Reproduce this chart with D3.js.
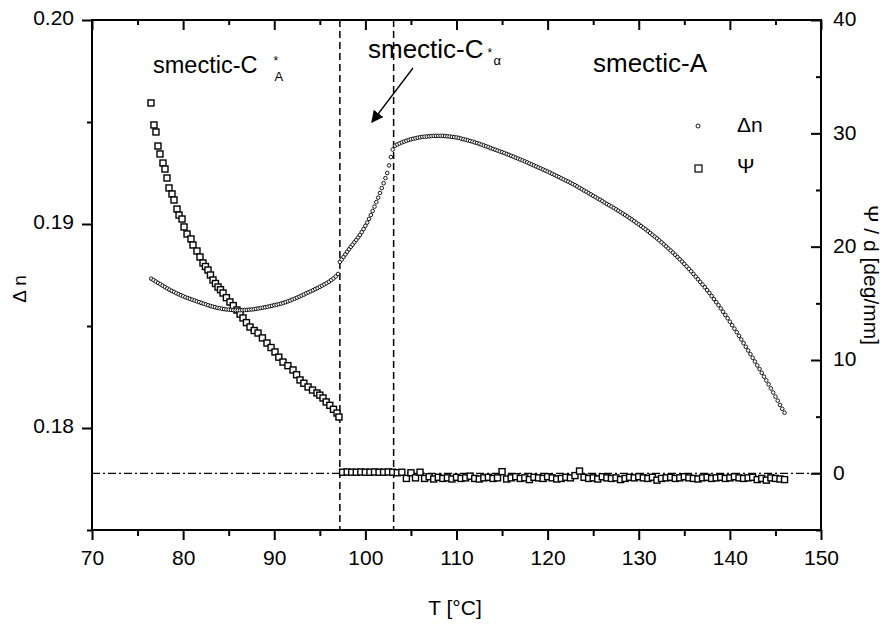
<!DOCTYPE html>
<html><head><meta charset="utf-8">
<script src="https://cdn.jsdelivr.net/npm/d3@7"></script>
<style>
body{margin:0;background:#fff}
svg{display:block}
text{font-family:"Liberation Sans",Arial,Helvetica,sans-serif;fill:#000}
</style>
</head><body>
<svg id="chart" width="883" height="624"></svg>
<script>
// ---------- data ----------
const xMajorTicks = [70, 80, 90, 100, 110, 120, 130, 140, 150];
const xMinorTicks = [75, 85, 95, 105, 115, 125, 135, 145];
const dnMajorTicks = [0.18, 0.19, 0.20];
const dnMinorTicks = [0.175, 0.185, 0.195];
const psiMajorTicks = [0, 10, 20, 30, 40];
const psiMinorTicks = [-5, 5, 15, 25, 35];
const transitionTemps = [97.2, 103.1];

// Δn, smectic-C*A range (from 76.5 °C, every 0.25 °C)
const dn1 = [0.18732,0.18725,0.18718,0.18711,0.18705,0.18698,0.18691,0.18684,
             0.18678,0.18672,0.18667,0.18661,0.18656,0.18651,0.18646,0.18641,
             0.18637,0.18633,0.18629,0.18625,0.18621,0.18617,0.18613,0.18609,
             0.18606,0.18602,0.18598,0.18595,0.18592,0.18589,0.18587,0.18585,
             0.18583,0.18581,0.18580,0.18579,0.18578,0.18577,0.18577,0.18577,
             0.18578,0.18578,0.18579,0.18580,0.18581,0.18582,0.18584,0.18586,
             0.18588,0.18590,0.18592,0.18594,0.18597,0.18599,0.18602,0.18604,
             0.18607,0.18610,0.18613,0.18617,0.18621,0.18625,0.18630,0.18634,
             0.18639,0.18644,0.18649,0.18654,0.18660,0.18665,0.18670,0.18675,
             0.18681,0.18686,0.18692,0.18698,0.18704,0.18710,0.18717,0.18725,
             0.18733,0.18743,0.18755];
const dnT1 = dn1.map((_, i) => 76.5 + i * 0.25);
// Δn, smectic-C*α range (from 97.2 °C, every 0.2 °C)
const dn2 = [0.18814,0.18826,0.18838,0.18851,0.18864,0.18876,0.18888,0.18899,0.18911,0.18922,
             0.18934,0.18946,0.18960,0.18975,0.18991,0.19007,0.19025,0.19044,0.19064,0.19085,
             0.19107,0.19129,0.19152,0.19176,0.19200,0.19225,0.19250,0.19287,0.19328,0.19365];
const dnT2 = dn2.map((_, i) => 97.2 + i * 0.2);
// Δn, smectic-A range (from 103.25 °C, every 0.25 °C)
const dn3 = [0.19384,0.19390,0.19395,0.19400,0.19404,0.19408,0.19412,0.19415,
             0.19418,0.19420,0.19423,0.19425,0.19427,0.19428,0.19429,0.19430,
             0.19431,0.19432,0.19432,0.19432,0.19432,0.19432,0.19431,0.19430,
             0.19429,0.19427,0.19426,0.19424,0.19422,0.19419,0.19416,0.19413,
             0.19410,0.19407,0.19404,0.19400,0.19397,0.19393,0.19389,0.19385,
             0.19381,0.19377,0.19372,0.19368,0.19364,0.19360,0.19356,0.19352,
             0.19348,0.19343,0.19339,0.19334,0.19330,0.19325,0.19321,0.19316,
             0.19312,0.19307,0.19302,0.19297,0.19292,0.19287,0.19282,0.19277,
             0.19272,0.19267,0.19262,0.19257,0.19252,0.19246,0.19241,0.19235,
             0.19230,0.19224,0.19219,0.19213,0.19208,0.19202,0.19196,0.19190,
             0.19184,0.19177,0.19171,0.19164,0.19158,0.19151,0.19145,0.19138,
             0.19132,0.19125,0.19119,0.19112,0.19105,0.19098,0.19092,0.19086,
             0.19079,0.19072,0.19065,0.19058,0.19051,0.19044,0.19037,0.19029,
             0.19022,0.19014,0.19006,0.18998,0.18990,0.18982,0.18974,0.18965,
             0.18956,0.18947,0.18938,0.18929,0.18920,0.18910,0.18900,0.18890,
             0.18880,0.18870,0.18860,0.18849,0.18838,0.18827,0.18816,0.18804,
             0.18792,0.18780,0.18768,0.18755,0.18742,0.18729,0.18716,0.18703,
             0.18690,0.18676,0.18662,0.18647,0.18632,0.18617,0.18602,0.18586,
             0.18570,0.18554,0.18538,0.18521,0.18504,0.18487,0.18470,0.18452,
             0.18434,0.18416,0.18398,0.18380,0.18362,0.18344,0.18326,0.18307,
             0.18289,0.18270,0.18252,0.18233,0.18214,0.18194,0.18174,0.18154,
             0.18134,0.18113,0.18094,0.18075];
const dnT3 = dn3.map((_, i) => 103.25 + i * 0.25);

// Ψ/d, smectic-C*A range
const psiT1 = [76.47,76.80,77.02,77.24,77.46,77.79,78.01,78.23,78.45,78.78,79.00,79.33,79.55,79.88,
               80.10,80.43,80.86,81.08,81.52,81.85,82.18,82.45,82.73,83.00,83.28,83.55,83.83,84.10,
               84.38,84.75,85.14,85.50,85.91,86.25,86.57,86.95,87.34,87.80,88.22,88.70,89.20,89.65,
               90.08,90.50,90.96,91.50,92.06,92.45,92.83,93.25,93.71,94.20,94.69,95.00,95.35,95.70,
               96.10,96.50,96.89,97.10];
const psi1 = [32.68,30.74,30.12,28.88,28.18,27.38,26.85,26.06,25.18,24.65,24.12,23.32,22.79,22.44,
              21.74,21.12,20.68,20.15,19.62,19.09,18.56,18.25,17.94,17.50,17.06,16.75,16.44,16.20,
              15.91,15.50,15.12,14.80,14.41,14.05,13.71,13.30,12.91,12.60,12.38,11.95,11.50,11.10,
              10.71,10.25,9.82,9.50,9.12,8.70,8.24,7.95,7.62,7.35,7.09,6.90,6.65,6.30,
              6.00,5.65,5.32,4.97];
// Ψ/d above the C*A transition (from 97.5 °C, every 0.5 °C)
const psi2 = [0.10,0.12,0.10,0.10,0.12,0.10,0.10,0.12,0.10,0.10,0.12,0.10,
              0.05,0.10,-0.45,0.05,-0.40,0.10,-0.45,-0.30,-0.50,-0.35,
              -0.45,-0.40,-0.50,-0.35,-0.45,-0.40,-0.25,-0.45,-0.50,-0.40,
              -0.35,-0.45,-0.40,0.15,-0.50,-0.40,-0.30,-0.45,-0.40,-0.55,
              -0.35,-0.40,-0.45,-0.30,-0.40,-0.50,-0.45,-0.35,-0.40,-0.20,
              0.20,-0.35,-0.45,-0.40,-0.50,-0.30,-0.40,-0.45,-0.40,-0.55,
              -0.45,-0.35,-0.40,-0.30,-0.40,-0.45,-0.35,-0.60,-0.45,-0.40,
              -0.35,-0.45,-0.40,-0.30,-0.40,-0.45,-0.50,-0.40,-0.35,-0.45,
              -0.40,-0.35,-0.45,-0.40,-0.30,-0.40,-0.45,-0.40,-0.35,-0.55,
              -0.45,-0.60,-0.40,-0.45,-0.50,-0.55];
const psiT2 = psi2.map((_, i) => 97.5 + i * 0.5);

// ---------- layout ----------
const svg = d3.select("#chart");
const m = {left: 92, top: 20, right: 62, bottom: 94};
const W = 883 - m.left - m.right, H = 624 - m.top - m.bottom;
const x = d3.scaleLinear().domain([70, 150]).range([m.left, m.left + W]);
const yL = d3.scaleLinear().domain([0.175, 0.20]).range([m.top + H, m.top]);
const yR = d3.scaleLinear().domain([-5, 40]).range([m.top + H, m.top]);
const FS = 21;

function styleAxis(g){
  g.select(".domain").remove();
  g.selectAll(".tick line").attr("stroke", "#000").attr("stroke-width", 2);
  g.selectAll("text").attr("font-size", FS).attr("font-family", '"Liberation Sans",Arial,sans-serif');
}

// bottom
svg.append("g").attr("transform", `translate(0,${m.top + H})`)
  .call(d3.axisBottom(x).tickValues(xMajorTicks).tickSize(10).tickPadding(10).tickFormat(d3.format("d"))).call(styleAxis);
svg.append("g").attr("transform", `translate(0,${m.top + H})`)
  .call(d3.axisBottom(x).tickValues(xMinorTicks).tickSize(6).tickFormat("")).call(styleAxis);
// top (inward)
svg.append("g").attr("transform", `translate(0,${m.top})`)
  .call(d3.axisTop(x).tickValues(xMajorTicks).tickSize(-10).tickFormat("")).call(styleAxis);
svg.append("g").attr("transform", `translate(0,${m.top})`)
  .call(d3.axisTop(x).tickValues(xMinorTicks).tickSize(-5).tickFormat("")).call(styleAxis);
// left
const gl = svg.append("g").attr("transform", `translate(${m.left},0)`)
  .call(d3.axisLeft(yL).tickValues(dnMajorTicks).tickSize(10).tickPadding(8).tickFormat(d3.format(".2f"))).call(styleAxis);
gl.selectAll("text").attr("dy", "0.2em");
svg.append("g").attr("transform", `translate(${m.left},0)`)
  .call(d3.axisLeft(yL).tickValues(dnMinorTicks).tickSize(5).tickFormat("")).call(styleAxis);
// right (inward ticks)
const gr = svg.append("g").attr("transform", `translate(${m.left + W},0)`)
  .call(d3.axisRight(yR).tickValues(psiMajorTicks).tickSize(-10).tickPadding(12).tickFormat(d3.format("d"))).call(styleAxis);
gr.selectAll("text").attr("dy", "0.27em");
svg.append("g").attr("transform", `translate(${m.left + W},0)`)
  .call(d3.axisRight(yR).tickValues(psiMinorTicks).tickSize(-5).tickFormat("")).call(styleAxis);

// frame
svg.append("rect").attr("x", m.left).attr("y", m.top).attr("width", W).attr("height", H)
  .attr("fill", "none").attr("stroke", "#000").attr("stroke-width", 2);

// reference lines
svg.append("line").attr("x1", m.left).attr("x2", m.left + W).attr("y1", yR(0)).attr("y2", yR(0))
  .attr("stroke", "#000").attr("stroke-width", 1.3).attr("stroke-dasharray", "8,3,2,3");
svg.selectAll(".vline").data(transitionTemps).enter().append("line")
  .attr("x1", d => x(d)).attr("x2", d => x(d)).attr("y1", m.top).attr("y2", m.top + H)
  .attr("stroke", "#000").attr("stroke-width", 1.5).attr("stroke-dasharray", "7,4");

// Ψ squares
const psiPts = psiT1.map((t, i) => [t, psi1[i]]).concat(psiT2.map((t, i) => [t, psi2[i]]));
const S = 6;
svg.append("g").selectAll("rect").data(psiPts).enter().append("rect")
  .attr("x", d => x(d[0]) - S / 2).attr("y", d => yR(d[1]) - S / 2)
  .attr("width", S).attr("height", S)
  .attr("fill", "#fff").attr("stroke", "#000").attr("stroke-width", 1.4);

// Δn circles
const dnPts = dnT1.map((t, i) => [t, dn1[i]])
  .concat(dnT2.map((t, i) => [t, dn2[i]]))
  .concat(dnT3.map((t, i) => [t, dn3[i]]));
svg.append("g").selectAll("circle").data(dnPts).enter().append("circle")
  .attr("cx", d => x(d[0])).attr("cy", d => yL(d[1])).attr("r", 1.8)
  .attr("fill", "#fff").attr("stroke", "#000").attr("stroke-width", 0.9);

// legend
svg.append("circle").attr("cx", 698).attr("cy", 126).attr("r", 2)
  .attr("fill", "#fff").attr("stroke", "#000").attr("stroke-width", 0.9);
svg.append("text").attr("x", 737).attr("y", 132).attr("font-size", 21).text("\u0394n");
svg.append("rect").attr("x", 695).attr("y", 165).attr("width", 7).attr("height", 7)
  .attr("fill", "#fff").attr("stroke", "#000").attr("stroke-width", 1.2);
svg.append("text").attr("x", 737).attr("y", 173).attr("font-size", 21).text("\u03A8");

// phase labels
function phaseLabel(x0, y0, fs, sub, starDx, starDy, subDx, subDy){
  const t = svg.append("text").attr("x", x0).attr("y", y0).attr("font-size", fs).text("smectic-C");
  const w = t.node().getComputedTextLength();
  svg.append("text").attr("x", x0 + w + starDx).attr("y", y0 + starDy).attr("font-size", 12).text("*");
  svg.append("text").attr("x", x0 + w + subDx).attr("y", y0 + subDy).attr("font-size", 13).text(sub);
}
phaseLabel(153, 72.5, 23.5, "A", 16, -8, 17, 8);
phaseLabel(368, 58.3, 26, "\u03B1", 4, -1, 10, 7);
svg.append("text").attr("x", 593).attr("y", 71.7).attr("font-size", 26).text("smectic-A");

// arrow
svg.append("defs").append("marker").attr("id", "ah").attr("viewBox", "0 0 10 10")
  .attr("refX", 9).attr("refY", 5).attr("markerWidth", 12).attr("markerHeight", 12)
  .attr("markerUnits", "userSpaceOnUse").attr("orient", "auto")
  .append("path").attr("d", "M0,0 L10,5 L0,10 Z").attr("fill", "#000");
svg.append("line").attr("x1", 413).attr("y1", 68).attr("x2", 372).attr("y2", 122)
  .attr("stroke", "#000").attr("stroke-width", 1.3).attr("marker-end", "url(#ah)");

// axis titles
svg.append("text").attr("x", 455).attr("y", 615).attr("text-anchor", "middle").attr("font-size", 21).text("T [\u00B0C]");
svg.append("text").attr("transform", "translate(26,289) rotate(-90)").attr("text-anchor", "middle")
  .attr("font-size", 19).text("\u0394 n");
svg.append("text").attr("transform", "translate(864,275) rotate(90)").attr("text-anchor", "middle")
  .attr("font-size", 21).text("\u03A8 / d [deg/mm]");
</script>
</body></html>
